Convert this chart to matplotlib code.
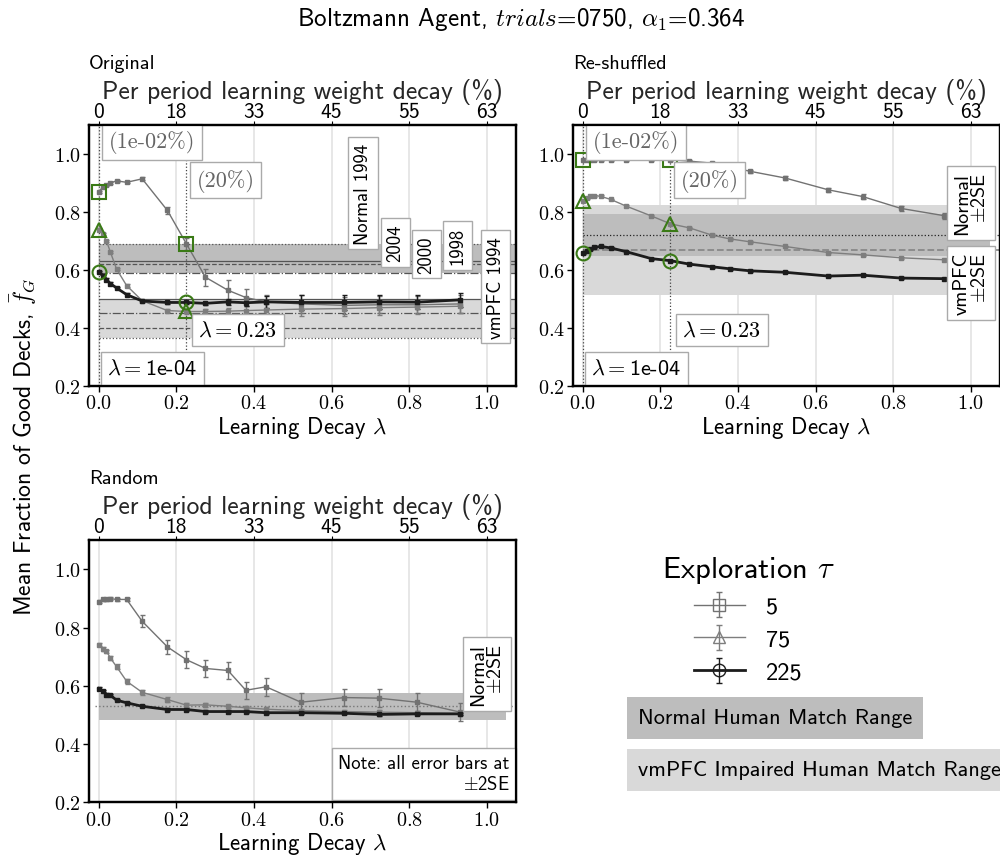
import numpy as np
import matplotlib
matplotlib.use("Agg")
import matplotlib.pyplot as plt
from matplotlib.ticker import FuncFormatter

plt.rcParams['font.family'] = ['cmss10', 'DejaVu Sans']
plt.rcParams['mathtext.fontset'] = 'cm'
plt.rcParams['axes.unicode_minus'] = False
plt.rcParams['axes.formatter.use_mathtext'] = True

# ---------------- data ----------------
lam = [0.0001, 0.01, 0.02, 0.03, 0.046, 0.072, 0.112, 0.177, 0.226, 0.275,
       0.333, 0.379, 0.431, 0.521, 0.633, 0.721, 0.820, 0.931]
taus = ['5', '75', '225']

orig_t5 = [0.868, 0.886, 0.893, 0.900, 0.907, 0.902, 0.914, 0.805, 0.690, 0.575,
           0.530, 0.505, 0.490, 0.483, 0.478, 0.480, 0.480, 0.483]
orig_t75 = [0.739, 0.725, 0.700, 0.662, 0.603, 0.546, 0.494, 0.460, 0.457, 0.457,
            0.458, 0.460, 0.462, 0.465, 0.467, 0.470, 0.472, 0.475]
orig_t225 = [0.594, 0.580, 0.567, 0.553, 0.538, 0.515, 0.493, 0.488, 0.488, 0.485,
             0.490, 0.487, 0.490, 0.488, 0.488, 0.490, 0.489, 0.497]
orig_e5 = [0.004, 0.004, 0.004, 0.004, 0.004, 0.004, 0.005, 0.012, 0.02, 0.03,
           0.035, 0.03, 0.025, 0.03, 0.03, 0.03, 0.03, 0.03]
orig_e75 = [0.004, 0.004, 0.004, 0.004, 0.004, 0.004, 0.004, 0.005, 0.008, 0.01,
            0.012, 0.015, 0.02, 0.025, 0.025, 0.025, 0.025, 0.025]
orig_e225 = [0.004, 0.004, 0.004, 0.004, 0.004, 0.004, 0.004, 0.004, 0.005, 0.005,
             0.01, 0.012, 0.02, 0.025, 0.025, 0.025, 0.025, 0.025]

shuf_t5 = [0.979, 0.980, 0.980, 0.980, 0.980, 0.980, 0.980, 0.980, 0.980, 0.975,
           0.968, 0.955, 0.940, 0.917, 0.876, 0.853, 0.812, 0.787]
shuf_t75 = [0.839, 0.848, 0.854, 0.856, 0.854, 0.843, 0.820, 0.786, 0.759, 0.745,
            0.720, 0.707, 0.697, 0.681, 0.660, 0.652, 0.642, 0.635]
shuf_t225 = [0.657, 0.665, 0.672, 0.678, 0.681, 0.676, 0.663, 0.639, 0.632, 0.620,
             0.611, 0.604, 0.597, 0.592, 0.579, 0.582, 0.572, 0.570]
shuf_e5 = [0.003] * 10 + [0.004, 0.005, 0.006, 0.007, 0.008, 0.009, 0.010, 0.010]
shuf_e75 = [0.003] * 18
shuf_e225 = [0.003] * 18

rand_t5 = [0.889, 0.897, 0.897, 0.900, 0.897, 0.897, 0.822, 0.734, 0.690, 0.660,
           0.653, 0.585, 0.597, 0.544, 0.560, 0.558, 0.544, 0.510]
rand_t75 = [0.742, 0.727, 0.719, 0.696, 0.666, 0.616, 0.578, 0.553, 0.534, 0.535,
            0.530, 0.525, 0.520, 0.515, 0.512, 0.510, 0.508, 0.505]
rand_t225 = [0.591, 0.582, 0.570, 0.568, 0.551, 0.542, 0.530, 0.519, 0.519, 0.512,
             0.512, 0.512, 0.508, 0.508, 0.506, 0.502, 0.504, 0.504]
rand_e5 = [0.005, 0.004, 0.004, 0.004, 0.004, 0.005, 0.02, 0.025, 0.03, 0.03,
           0.03, 0.03, 0.03, 0.03, 0.03, 0.03, 0.03, 0.03]
rand_e75 = [0.005, 0.006, 0.006, 0.008, 0.008, 0.008, 0.008, 0.008, 0.008, 0.008,
            0.006, 0.006, 0.006, 0.006, 0.006, 0.006, 0.006, 0.006]
rand_e225 = [0.004] * 18

# human reference lines (Original panel)
normal_ref = [0.69, 0.63, 0.62, 0.59]
normal_ref_labels = ['Normal 1994', '2004', '1998', '2000']
vmpfc_ref = [0.367, 0.50, 0.40, 0.45]
vmpfc_ref_labels = ['vmPFC 1994', None, None, None]
# +-2SE ranges (Re-shuffled / Random)
shuf_normal = [0.72, 0.072]
shuf_vmpfc = [0.67, 0.155]
rand_normal = [0.53, 0.047]

highlight_lam = [0.0001, 0.226]
bottom_ticks = [0.0, 0.2, 0.4, 0.6, 0.8, 1.0]
top_labels = ['0', '18', '33', '45', '55', '63']
yticks = [0.2, 0.4, 0.6, 0.8, 1.0]

# ---------------- styles ----------------
GREEN = '#3a7a16'
DARK = '#bdbdbd'
LIGHT = '#d9d9d9'
styles = [dict(color='#727272', lw=1.0, mk='s'),
          dict(color='#7e7e7e', lw=1.0, mk='^'),
          dict(color='#1c1c1c', lw=2.0, mk='o')]
ls_cycle = [':', '-', '--', '-.']

fig = plt.figure(figsize=(10, 8.62), dpi=100)
ax_o = fig.add_axes([0.089, 0.551, 0.427, 0.303])
ax_s = fig.add_axes([0.573, 0.551, 0.427, 0.303])
ax_r = fig.add_axes([0.089, 0.068, 0.427, 0.304])

fmt = FuncFormatter(lambda v, p: f'${v:.1f}$')


def setup(ax, title):
    ax.set_xlim(-0.025, 1.075)
    ax.set_ylim(0.2, 1.1)
    ax.set_xticks(bottom_ticks)
    ax.set_yticks(yticks)
    ax.xaxis.set_major_formatter(fmt)
    ax.yaxis.set_major_formatter(fmt)
    ax.tick_params(labelsize=14.5, length=4, width=1, pad=2)
    ax.grid(axis='x', color='#e3e3e3', lw=1.2, zorder=0)
    ax.set_axisbelow(True)
    for sp in ax.spines.values():
        sp.set_linewidth(1.6)
    ax.set_xlabel(r'Learning Decay $\lambda$', fontsize=16.5, labelpad=1)
    t = ax.twiny()
    t.set_xlim(ax.get_xlim())
    t.set_xticks(bottom_ticks)
    t.set_xticklabels(top_labels)
    t.tick_params(labelsize=15.5, length=3, pad=0)
    t.set_xlabel('Per period learning weight decay (%)', fontsize=18.5, labelpad=3,
                 color='#262626')
    for sp in t.spines.values():
        sp.set_linewidth(1.6)
    ax.text(0.0, 1.236, title, transform=ax.transAxes, fontsize=14.5,
            ha='left', va='center')


def draw_series(ax, ys, es, highlight=True):
    for y, e, st in zip(ys, es, styles):
        ax.errorbar(lam, y, yerr=e, color=st['color'], lw=st['lw'], marker='s',
                    ms=3, capsize=1.8, elinewidth=1.0, capthick=1.0, zorder=5)
        if highlight:
            hy = [y[lam.index(h)] for h in highlight_lam]
            ax.plot(highlight_lam, hy, linestyle='none', marker=st['mk'], ms=10,
                    mfc='none', mec=GREEN, mew=1.5, zorder=7)


def annotate_lams(ax):
    for h in highlight_lam:
        ax.axvline(h, color='#444444', lw=0.9, ls=':', zorder=3)
    box = dict(boxstyle='square,pad=0.3', fc='white', ec='#aaaaaa', lw=1)
    ax.text(0.138, 1.041, '(1e-02%)', fontfamily='cmr10', fontsize=16,
            color='#666666', ha='center', va='center', bbox=box, zorder=8)
    ax.text(0.327, 0.909, '(20%)', fontfamily='cmr10', fontsize=16,
            color='#666666', ha='center', va='center', bbox=box, zorder=8)
    ax.text(0.358, 0.393, r'$\lambda=0.23$', fontsize=16,
            ha='center', va='center', bbox=box, zorder=8)
    ax.text(0.138, 0.262, r'$\lambda=$1e-04', fontsize=16,
            ha='center', va='center', bbox=box, zorder=8)


lbox = dict(boxstyle='square,pad=0.3', fc='white', ec='#aaaaaa', lw=1)

# ---------- Original ----------
setup(ax_o, 'Original')
ax_o.axhspan(min(normal_ref), max(normal_ref), xmin=0.025 / 1.1, color=DARK, zorder=1, lw=0)
ax_o.axhspan(min(vmpfc_ref), max(vmpfc_ref), xmin=0.025 / 1.1, color=LIGHT, zorder=1, lw=0)
lab_x_n = [0.681, 0.764, 0.924, 0.845]
for v, ls, lab, lx in zip(normal_ref, ls_cycle, normal_ref_labels, lab_x_n):
    ax_o.hlines(v, 0, 1.1, colors='#555555', linestyles=ls, lw=0.9, zorder=2)
    ax_o.text(lx, v, lab, rotation=90, ha='center', va='bottom', fontsize=13.5,
              bbox=lbox, zorder=8)
for v, ls, lab in zip(vmpfc_ref, ls_cycle, vmpfc_ref_labels):
    ax_o.hlines(v, 0, 1.1, colors='#555555', linestyles=ls, lw=0.9, zorder=2)
    if lab:
        ax_o.text(1.023, v, lab, rotation=90, ha='center', va='bottom', fontsize=13.5,
                  bbox=lbox, zorder=8)
draw_series(ax_o, [orig_t5, orig_t75, orig_t225], [orig_e5, orig_e75, orig_e225])
annotate_lams(ax_o)

# ---------- Re-shuffled ----------
setup(ax_s, 'Re-shuffled')
ax_s.fill_between([0, 1.05], shuf_vmpfc[0] - shuf_vmpfc[1], shuf_vmpfc[0] + shuf_vmpfc[1],
                  color=LIGHT, lw=0, zorder=1)
ax_s.fill_between([0, 1.05], shuf_normal[0] - shuf_normal[1], shuf_normal[0] + shuf_normal[1],
                  color=DARK, lw=0, zorder=1)
ax_s.hlines(shuf_normal[0], 0, 1.1, colors='#222222', linestyles=':', lw=0.9, zorder=2)
ax_s.hlines(shuf_vmpfc[0], 0, 1.1, colors='#888888', linestyles='--', lw=1.3, zorder=2)
ax_s.text(1.0, shuf_normal[0] + 0.005, 'Normal\n' + r'$\pm$2SE', rotation=90, ha='center',
          va='bottom', multialignment='right', fontsize=14.5, linespacing=1.0,
          bbox=lbox, zorder=8)
ax_s.text(1.0, shuf_vmpfc[0] - 0.008, 'vmPFC\n' + r'$\pm$2SE', rotation=90, ha='center',
          va='top', multialignment='right', fontsize=14.5, linespacing=1.0,
          bbox=lbox, zorder=8)
draw_series(ax_s, [shuf_t5, shuf_t75, shuf_t225], [shuf_e5, shuf_e75, shuf_e225])
annotate_lams(ax_s)

# ---------- Random ----------
setup(ax_r, 'Random')
ax_r.fill_between([0, 1.05], rand_normal[0] - rand_normal[1], rand_normal[0] + rand_normal[1],
                  color=DARK, lw=0, zorder=1)
ax_r.hlines(rand_normal[0], -0.01, 1.1, colors='#777777', linestyles=':', lw=1.0, zorder=2)
ax_r.text(1.0, rand_normal[0] + 0.005, 'Normal\n' + r'$\pm$2SE', rotation=90, ha='center',
          va='bottom', multialignment='right', fontsize=14.5, linespacing=1.0,
          bbox=lbox, zorder=8)
draw_series(ax_r, [rand_t5, rand_t75, rand_t225], [rand_e5, rand_e75, rand_e225],
            highlight=False)
ax_r.text(0.985, 0.035, 'Note: all error bars at\n' + r'$\pm$2SE', transform=ax_r.transAxes,
          ha='right', va='bottom', multialignment='right', fontsize=13.5,
          bbox=dict(boxstyle='square,pad=0.35', fc='white', ec='#aaaaaa', lw=1), zorder=8)

# ---------- titles / labels ----------
fig.text(0.521, 0.977, r'Boltzmann Agent, $trials$=0750, $\alpha_1$=0.364',
         ha='center', va='center', fontsize=18)
fig.text(0.024, 0.482, r'Mean Fraction of Good Decks, $\bar{f}_G$', rotation=90,
         ha='center', va='center', fontsize=17)

# ---------- legend ----------
hax = fig.add_axes([0, 0, 0.001, 0.001])
hax.axis('off')
handles = []
for st in styles:
    h = hax.errorbar([np.nan], [np.nan], yerr=[np.nan], color=st['color'], lw=st['lw'],
                     marker=st['mk'], ms=9, mfc='none', mec=st['color'], capsize=2,
                     elinewidth=1.0)
    handles.append(h)
leg = fig.legend(handles, taus, title=r'Exploration $\tau$', loc='center',
                 bbox_to_anchor=(0.748, 1 - 620 / 862), frameon=False, fontsize=17.5,
                 title_fontsize=22, handlelength=2.1, labelspacing=0.45,
                 handletextpad=0.85, borderpad=0.2)

fig.text(0.638, 1 - 719 / 862, 'Normal Human Match Range', ha='left', va='center',
         fontsize=16, bbox=dict(boxstyle='square,pad=0.5', fc=DARK, ec='none'))
fig.text(0.638, 1 - 771 / 862, 'vmPFC Impaired Human Match Range', ha='left', va='center',
         fontsize=16, bbox=dict(boxstyle='square,pad=0.5', fc=LIGHT, ec='none'))

fig.savefig('out.png', dpi=100)
